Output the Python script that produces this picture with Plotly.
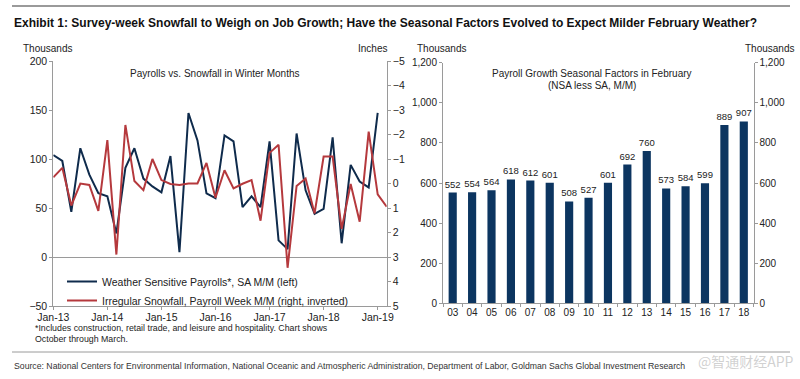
import plotly.graph_objects as go

# ---------------- data ----------------
month_labels = []
for yr in range(13, 20):
    for m in (["Jan", "Feb", "Mar"] + ([] if yr == 19 else ["Oct", "Nov", "Dec"])):
        month_labels.append(f"{m}-{yr:02d}")
month_labels = month_labels[:38]

payrolls = [104, 98, 46, 111, 84, 65, 62, 24, 91, 111,
            80, 72, 66, 103, 5, 147, 119, 65, 60, 124,
            118, 51, 62, 51, 118, 17, 8, 126, 68, 44,
            49, 122, 14, 94, 77, 71, 147, None]

snowfall = [-0.25, -0.64, 0.9, 0.0, 0.06, 1.12, -1.77, 2.9, -2.39, -0.1,
            0.27, -1.0, -0.14, 0.02, 0.06, 0.0, 0.0, -0.84, 0.58, -0.54,
            0.2, 0.01, -0.14, 1.52, -1.25, -1.58, 3.44, 0.1, -0.2, 1.22,
            -1.1, -1.1, 1.85, 0.02, 1.56, -2.12, 0.44, 0.95]

jan_ticks = ["Jan-13", "Jan-14", "Jan-15", "Jan-16", "Jan-17", "Jan-18", "Jan-19"]

bar_years = ["03", "04", "05", "06", "07", "08", "09", "10",
             "11", "12", "13", "14", "15", "16", "17", "18"]
bar_values = [552, 554, 564, 618, 612, 601, 508, 527,
              601, 692, 760, 573, 584, 599, 889, 907]

# ---------------- styling ----------------
W, H = 800, 379
NAVY = "#0f2b4c"
RED = "#b5393d"
BAR = "#0c3560"
AX = "#9a9a9a"
TXT = "#222222"
FONT = "Liberation Sans, Arial, sans-serif"


def px_x(p):
    return p / W


def px_y(p):
    return 1 - p / H


fig = go.Figure()

fig.add_trace(go.Scatter(
    x=month_labels, y=payrolls, mode="lines", name="Weather Sensitive Payrolls*, SA M/M (left)",
    line=dict(color=NAVY, width=2), xaxis="x", yaxis="y"))
fig.add_trace(go.Scatter(
    x=month_labels, y=snowfall, mode="lines", name="Irregular Snowfall, Payroll Week M/M (right, inverted)",
    line=dict(color=RED, width=2), xaxis="x", yaxis="y2"))

fig.add_trace(go.Bar(
    x=bar_years, y=bar_values, marker=dict(color=BAR, line=dict(width=0)),
    width=0.42, text=[str(v) for v in bar_values], textposition="outside",
    constraintext="none",
    textfont=dict(size=9.5, color=TXT, family=FONT), cliponaxis=False,
    showlegend=False, xaxis="x2", yaxis="y3"))
fig.add_trace(go.Scatter(
    x=bar_years, y=bar_values, mode="lines", line=dict(width=0), opacity=0,
    hoverinfo="skip", showlegend=False, xaxis="x2", yaxis="y4"))

left_font = dict(size=10.5, color=TXT, family=FONT)
right_font = dict(size=10, color=TXT, family=FONT)


def axis_common(font):
    return dict(showgrid=False, showline=True, linecolor=AX, linewidth=1, automargin=False,
                ticks="outside", tickcolor=AX, ticklen=3, tickfont=font)


left_xd = [px_x(53.3), px_x(386.7)]
left_yd = [px_y(306), px_y(61)]
right_xd = [px_x(443), px_x(753.5)]
right_yd = [px_y(303.3), px_y(62.7)]

fig.update_layout(
    width=W, height=H,
    margin=dict(l=0, r=0, t=0, b=0, autoexpand=False),
    paper_bgcolor="white", plot_bgcolor="rgba(0,0,0,0)",
    font=dict(family=FONT, color=TXT),
    xaxis=dict(domain=left_xd, anchor="y", type="category", range=[0, 37],
               tickmode="array", tickvals=jan_ticks, ticktext=jan_ticks, tickangle=0,
               ticklabelstandoff=-2, zeroline=False, **axis_common(left_font)),
    yaxis=dict(domain=left_yd, anchor="x", range=[-50, 200], tickvals=[-50, 0, 50, 100, 150, 200],
               zeroline=True, zerolinecolor=AX, zerolinewidth=1, **axis_common(left_font)),
    yaxis2=dict(domain=left_yd, anchor="x", overlaying="y", side="right", range=[5, -5],
                tickvals=list(range(-5, 6)), zeroline=False, **axis_common(left_font)),
    xaxis2=dict(domain=right_xd, anchor="y3", type="category", range=[-0.5, 15.5],
                tickson="boundaries", tickangle=0, zeroline=False, **axis_common(right_font)),
    yaxis3=dict(domain=right_yd, anchor="x2", range=[0, 1200], tickvals=[0, 200, 400, 600, 800, 1000, 1200],
                tickformat=",", zeroline=False, **axis_common(right_font)),
    yaxis4=dict(domain=right_yd, anchor="x2", overlaying="y3", side="right", range=[0, 1200],
                tickvals=[0, 200, 400, 600, 800, 1000, 1200], tickformat=",", zeroline=False,
                **axis_common(right_font)),
    legend=dict(x=px_x(62), y=px_y(267), xanchor="left", yanchor="top",
                bgcolor="rgba(0,0,0,0)", font=dict(size=10.5, color=TXT, family=FONT),
                itemwidth=30, tracegroupgap=0),
    showlegend=True,
)

ann = []


def add_text(text, x, y, size, xanchor="left", family=FONT, color=TXT, bold=False):
    if bold:
        text = f"<b>{text}</b>"
    ann.append(dict(text=text, x=px_x(x), y=px_y(y), xref="paper", yref="paper",
                    xanchor=xanchor, yanchor="middle", showarrow=False,
                    font=dict(size=size, family=family, color=color)))


add_text("Exhibit 1: Survey-week Snowfall to Weigh on Job Growth; Have the Seasonal Factors Evolved to Expect Milder February Weather?",
         12, 23, 12, color="#111111", bold=True)
add_text("Thousands", 21, 48, 10)
add_text("Inches", 389, 48, 10, xanchor="right")
add_text("Thousands", 415, 48, 10)
add_text("Thousands", 796, 48, 10, xanchor="right")
add_text("Payrolls vs. Snowfall in Winter Months", 215.5, 74, 10, xanchor="center")
add_text("Payroll Growth Seasonal Factors in February", 591.7, 74, 10, xanchor="center")
add_text("(NSA less SA, M/M)", 591.7, 86, 10, xanchor="center")
add_text("*Includes construction, retail trade, and leisure and hospitality. Chart shows", 33, 328, 8.8)
add_text("October through March.", 33, 339, 8.8)
add_text("Source: National Centers for Environmental Information, National Oceanic and Atmospheric Administration, Department of Labor, Goldman Sachs Global Investment Research",
         12, 366, 8.7, color="#333333")
add_text("@智通财经APP", 796, 361, 14, xanchor="right", family="Noto Sans CJK SC",
         color="rgba(170,170,170,0.55)")

fig.update_layout(annotations=ann)

fig.update_layout(shapes=[
    dict(type="line", xref="paper", yref="paper", x0=px_x(12), x1=px_x(790), y0=px_y(6), y1=px_y(6),
         line=dict(color="#9a9a9a", width=2)),
    dict(type="line", xref="paper", yref="paper", x0=px_x(12), x1=px_x(790), y0=px_y(352), y1=px_y(352),
         line=dict(color="#9a9a9a", width=1)),
])

fig.write_html("out.html", config={"displayModeBar": False},
               post_script="document.body.style.margin='0';document.body.style.padding='0';")
